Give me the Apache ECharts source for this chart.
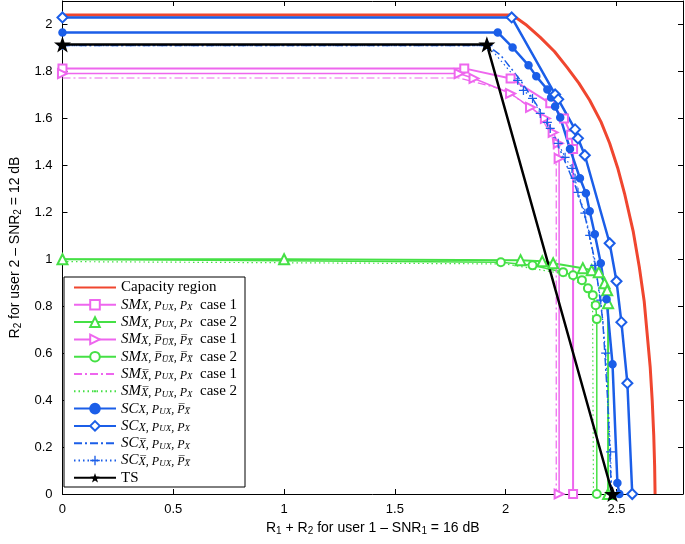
<!DOCTYPE html>
<html><head><meta charset="utf-8">
<script src="https://cdn.jsdelivr.net/npm/echarts@6/dist/echarts.min.js"></script>
<style>html,body{margin:0;padding:0;background:#fff}#c{width:685px;height:544px}</style>
</head><body><div id="c"></div>
<script>
// ---------- data ----------
const xTickLabels = ['0', '0.5', '1', '1.5', '2', '2.5'];
const yTickLabels = ['0', '0.2', '0.4', '0.6', '0.8', '1', '1.2', '1.4', '1.6', '1.8', '2'];
const seriesNames = ['cap', 'sm1', 'sm2', 'sm3', 'sm4', 'sm5', 'sm6', 'sc1', 'sc2', 'sc3', 'sc4', 'ts'];

const capacity = [[0,2.04],[2.03,2.04],[2.09,2.0],[2.156,1.945],[2.22,1.885],[2.277,1.817],[2.33,1.75],[2.379,1.677],[2.43,1.585],[2.469,1.494],[2.505,1.39],[2.536,1.281],[2.575,1.12],[2.603,0.966],[2.625,0.82],[2.638,0.685],[2.652,0.54],[2.661,0.40],[2.668,0.25],[2.672,0.12],[2.674,0]];
const smSquare = [[0,1.813],[1.813,1.813],[2.022,1.77],[2.201,1.664],[2.263,1.6],[2.295,1.53],[2.304,1.47],[2.304,0]];
const smTriUp = [[0,1.0],[1,1.0],[2.067,0.996],[2.165,0.991],[2.214,0.983],[2.348,0.962],[2.388,0.953],[2.42,0.945],[2.446,0.898],[2.458,0.868],[2.462,0.813],[2.462,0]];
const smTriRight = [[0,1.791],[1.79,1.791],[1.857,1.77],[2.022,1.706],[2.112,1.647],[2.179,1.6],[2.214,1.54],[2.237,1.494],[2.241,1.43],[2.241,0]];
const smCircle = [[0,1.0],[1.978,0.987],[2.121,0.974],[2.259,0.945],[2.304,0.932],[2.344,0.911],[2.371,0.876],[2.393,0.847],[2.406,0.804],[2.411,0.745],[2.411,0]];
const smDashDot = [[0,1.772],[1.79,1.772],[2.0,1.72],[2.15,1.62],[2.21,1.52],[2.228,1.40],[2.228,0]];
const smDotted = [[0,0.99],[2.0,0.98],[2.25,0.94],[2.37,0.88],[2.392,0.8],[2.396,0]];
const scStar = [[0,1.966],[1.964,1.966],[2.031,1.902],[2.103,1.826],[2.138,1.779],[2.188,1.723],[2.205,1.689],[2.223,1.651],[2.246,1.604],[2.29,1.47],[2.335,1.345],[2.362,1.281],[2.379,1.204],[2.402,1.106],[2.429,0.983],[2.455,0.830],[2.482,0.553],[2.504,0.047],[2.513,0]];
const scDiamond = [[0,2.03],[2.027,2.03],[2.223,1.702],[2.237,1.681],[2.313,1.553],[2.326,1.515],[2.357,1.443],[2.469,1.068],[2.5,0.906],[2.522,0.732],[2.549,0.472],[2.571,0]];
const scDashDot = [[0,1.91],[1.92,1.91],[1.978,1.868],[2.067,1.762],[2.156,1.634],[2.246,1.464],[2.313,1.315],[2.357,1.187],[2.402,0.996],[2.438,0.74],[2.46,0.4],[2.473,0.102],[2.478,0]];
const scPlus = [[0,1.91],[1.92,1.91],[2.054,1.762],[2.08,1.719],[2.121,1.685],[2.156,1.621],[2.188,1.583],[2.201,1.557],[2.237,1.494],[2.268,1.434],[2.299,1.387],[2.313,1.345],[2.326,1.285],[2.357,1.196],[2.379,1.102],[2.402,0.974],[2.429,0.826],[2.451,0.6],[2.473,0.179],[2.478,0]];
const tsLine = [[0,1.915],[1.915,1.915],[2.482,0]];

// ---------- styling ----------
const RED = '#f0462f', MAG = '#ee66ee', GRN = '#45e045', BLU = '#1b5ee8', BLK = '#000';
const STAR = 'path://M10,0L12.35,6.76L19.51,6.91L13.8,11.24L15.88,18.09L10,14L4.12,18.09L6.2,11.24L0.49,6.91L7.65,6.76Z';
const PLUS = 'path://M4.3,0h1.4v4.3h4.3v1.4h-4.3v4.3h-1.4v-4.3h-4.3v-1.4h4.3z';
const NOMARK = 'path://M0,0M10,10';
const DOT = 'path://M0,0M10,10M4,4h2v2h-2z';
const DASHDOT = [8, 3, 2, 3];
const DOTTED = [1.5, 3];

function ov(s) { return s.split('').map(c => c + '\u0305').join(''); }
function lab(base, xbar, puxbar, pxbar, cs) {
  const X = xbar ? ov('X') : 'X';
  const P1 = puxbar ? ov('P') : 'P';
  const UX = puxbar ? ov('UX') : 'UX';
  const P2 = pxbar ? ov('P') : 'P';
  const Xs = pxbar ? ov('X') : 'X';
  let s = '{i|' + base + '}{s|' + X + ', ' + P1 + '}{ss|' + UX + '}{s|, ' + P2 + '}{ss|' + Xs + '}';
  if (cs) s += '{t|  case ' + cs + '}';
  return s;
}
const legendText = {
  cap: '{t|Capacity region}',
  sm1: lab('SM', false, false, false, 1),
  sm2: lab('SM', false, false, false, 2),
  sm3: lab('SM', false, true, true, 1),
  sm4: lab('SM', false, true, true, 2),
  sm5: lab('SM', true, false, false, 1),
  sm6: lab('SM', true, false, false, 2),
  sc1: lab('SC', false, false, true, 0),
  sc2: lab('SC', false, false, false, 0),
  sc3: lab('SC', true, false, false, 0),
  sc4: lab('SC', true, false, true, 0),
  ts: '{t|TS}'
};

function mk(name, data, color, width, symbol, size, dash, extra) {
  return Object.assign({
    name: name, type: 'line', data: data, color: color,
    symbol: symbol, symbolSize: size, showSymbol: size > 0,
    symbolKeepAspect: true,
    lineStyle: { color: color, width: width, type: dash || 'solid' },
    itemStyle: { color: color, borderColor: color, borderWidth: 1.5 },
    emphasis: { disabled: true }, animation: false, z: 2
  }, extra || {});
}

// the circle series' first point (x = 0) is drawn without a marker in the reference
const smCircleData = smCircle.map((p, i) => i === 0 ? { value: p, symbol: 'none' } : p);

const series = [
  mk('cap', capacity, RED, 3, NOMARK, 0),
  mk('sm1', smSquare, MAG, 2, 'emptyRect', 8),
  mk('sm2', smTriUp, GRN, 2, 'emptyTriangle', 10),
  mk('sm3', smTriRight, MAG, 1.5, 'emptyTriangle', 9, null, { symbolRotate: -90 }),
  mk('sm4', smCircleData, GRN, 1.5, 'emptyCircle', 8),
  mk('sm5', smDashDot, MAG, 1.2, DOT, 0, DASHDOT, { itemStyle: { color: MAG, borderWidth: 0 } }),
  mk('sm6', smDotted, GRN, 1.2, DOT, 0, DOTTED, { itemStyle: { color: GRN, borderWidth: 0 } }),
  mk('sc1', scStar, BLU, 2.5, 'circle', 7),
  mk('sc2', scDiamond, BLU, 2.5, 'emptyDiamond', 10),
  mk('sc3', scDashDot, BLU, 1.5, NOMARK, 0, DASHDOT),
  mk('sc4', scPlus, BLU, 1.2, PLUS, 9, DOTTED, { itemStyle: { color: BLU, borderWidth: 0 } }),
  mk('ts', tsLine, BLK, 2.5, STAR, 17, null, { itemStyle: { color: BLK, borderWidth: 0 } })
];

const SANS = 'Liberation Sans';
const SERIF = 'Liberation Serif';
const axBase = {
  type: 'value', min: 0, splitLine: { show: false },
  axisLine: { show: true, onZero: false, lineStyle: { color: '#000', width: 1 } },
  axisTick: { show: true, inside: true, length: 5, lineStyle: { color: '#000' } }
};

const chart = echarts.init(document.getElementById('c'), null, { renderer: 'canvas' });
chart.setOption({
  backgroundColor: '#fff',
  animation: false,
  grid: { left: 57, right: 2, top: 1, bottom: 50, containLabel: false },
  xAxis: [
    Object.assign({}, axBase, {
      max: 2.8, interval: 0.5, position: 'bottom',
      axisLabel: { show: true, showMaxLabel: false, margin: 9, fontFamily: SANS, fontSize: 13, color: '#000',
        formatter: v => xTickLabels[Math.round(v / 0.5)] || '' },
      name: '{a|R}{s|1}{a| + R}{s|2}{a| for user 1 – SNR}{s|1}{a| = 16 dB}',
      nameLocation: 'middle', nameGap: 21,
      nameTextStyle: { rich: {
        a: { fontFamily: SANS, fontSize: 14, color: '#000', lineHeight: 17 },
        s: { fontFamily: SANS, fontSize: 10, color: '#000', lineHeight: 8, verticalAlign: 'bottom' } } }
    }),
    Object.assign({}, axBase, { max: 2.8, interval: 0.5, position: 'top', axisLabel: { show: false } })
  ],
  yAxis: [
    Object.assign({}, axBase, {
      max: 2.1, interval: 0.2, position: 'left',
      axisLabel: { show: true, showMaxLabel: false, margin: 10, fontFamily: SANS, fontSize: 13, color: '#000',
        formatter: v => yTickLabels[Math.round(v / 0.2)] || '' },
      name: '{a|R}{s|2}{a| for user 2 – SNR}{s|2}{a| = 12 dB}',
      nameLocation: 'middle', nameGap: 25,
      nameTextStyle: { rich: {
        a: { fontFamily: SANS, fontSize: 14, color: '#000', lineHeight: 17 },
        s: { fontFamily: SANS, fontSize: 10, color: '#000', lineHeight: 8, verticalAlign: 'bottom' } } }
    }),
    Object.assign({}, axBase, { max: 2.1, interval: 0.2, position: 'right', axisLabel: { show: false } })
  ],
  legend: {
    show: true, orient: 'vertical', left: 73, top: 280, padding: 0, z: 20,
    itemWidth: 42, itemHeight: 12, itemGap: 2.3,
    data: seriesNames, selectedMode: false,
    formatter: n => legendText[n],
    textStyle: { fontFamily: SERIF, fontSize: 15, color: '#000', lineHeight: 15,
      rich: {
        t: { fontFamily: SERIF, fontSize: 15, color: '#000', lineHeight: 15 },
        i: { fontFamily: SERIF, fontStyle: 'italic', fontSize: 15, color: '#000', lineHeight: 15 },
        s: { fontFamily: SERIF, fontStyle: 'italic', fontSize: 12, color: '#000', lineHeight: 10, verticalAlign: 'bottom' },
        ss: { fontFamily: SERIF, fontStyle: 'italic', fontSize: 9, color: '#000', lineHeight: 7, verticalAlign: 'bottom' }
      } }
  },
  graphic: [
    { type: 'rect', shape: { x: 64, y: 277, width: 181, height: 210 }, z: 5,
      style: { fill: '#fff', stroke: '#000', lineWidth: 1 }, silent: true }
  ],
  series: series
});
</script>
</body></html>
